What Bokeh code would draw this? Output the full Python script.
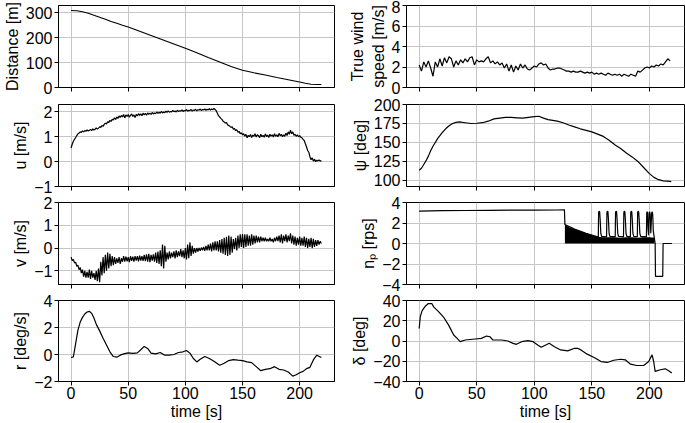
from bokeh.plotting import figure
from bokeh.layouts import gridplot
from bokeh.models import Range1d, FixedTicker, CustomJSTickFormatter
from bokeh.embed import file_html
from bokeh.resources import INLINE

# ---------------- data ----------------
x_ticks = [0, 50, 100, 150, 200]

dist_t = [0, 5, 10, 15, 20, 25, 30, 35, 40, 45, 50, 60, 70, 80, 90, 100, 110, 120, 130, 140,
          150, 160, 170, 180, 190, 200, 205, 210, 215, 219]
dist_v = [308, 307, 303, 297, 289, 281, 273, 264, 257, 249, 242, 225, 208, 191, 174, 157, 139, 120, 102, 84,
          69, 59, 50, 40, 31, 22, 17, 13, 12, 12]

wind_t = list(range(0, 220, 2))
wind_v = [2.2, 1.6, 2.5, 2.0, 2.6, 1.9, 1.1, 2.5, 2.0, 2.8, 2.1, 2.9, 2.4, 3.0, 2.8, 2.0, 2.6, 2.2, 2.7, 2.4,
          2.8, 2.5, 2.9, 3.0, 2.2, 2.7, 2.5, 2.6, 2.5, 2.8, 3.0, 2.4, 2.6, 2.3, 2.5, 2.2, 2.4, 1.9, 2.3, 1.6,
          2.2, 1.5, 2.1, 1.7, 2.3, 1.9, 2.2, 1.8, 1.7, 1.9, 2.1, 2.0, 2.3, 2.4, 2.2, 2.3, 1.9, 1.7, 1.8, 1.8,
          1.9, 1.9, 1.8, 1.7, 1.6, 1.6, 1.5, 1.6, 1.5, 1.5, 1.6, 1.5, 1.4, 1.5, 1.4, 1.5, 1.3, 1.4, 1.3, 1.4,
          1.3, 1.2, 1.4, 1.3, 1.2, 1.3, 1.2, 1.3, 1.1, 1.3, 1.2, 1.1, 1.3, 1.2, 1.1, 1.6, 1.5, 1.7, 1.9, 2.0,
          1.9, 2.1, 2.0, 2.2, 2.1, 2.3, 2.2, 2.5, 2.8, 2.6]

u_t = list(range(0, 220))
u_v = [0.55, 0.7, 0.82, 0.9, 0.97, 1.05, 1.12, 1.15, 1.2, 1.18,
       1.24, 1.2, 1.25, 1.22, 1.28, 1.23, 1.26, 1.3, 1.25, 1.32,
       1.27, 1.3, 1.36, 1.31, 1.35, 1.4, 1.38, 1.45, 1.42, 1.5,
       1.55, 1.52, 1.6, 1.58, 1.66, 1.62, 1.7, 1.68, 1.76, 1.7,
       1.8, 1.74, 1.84, 1.78, 1.86, 1.8, 1.9, 1.76, 1.88, 1.82,
       1.9, 1.79, 1.86, 1.92, 1.82, 1.88, 1.78, 1.9, 1.84, 1.93,
       1.86, 1.92, 1.85, 1.95, 1.88, 1.94, 1.87, 1.96, 1.9, 1.95,
       1.9, 1.98, 1.92, 1.96, 1.93, 2.0, 1.94, 1.99, 1.95, 2.02,
       1.96, 2.0, 1.97, 2.03, 1.98, 2.04, 1.99, 2.02, 2.0, 2.06,
       2.01, 2.04, 2.0, 2.07, 2.02, 2.05, 2.03, 2.08, 2.02, 2.06,
       2.04, 2.1, 2.03, 2.07, 2.05, 2.1, 2.03, 2.08, 2.06, 2.11,
       2.04, 2.09, 2.07, 2.12, 2.05, 2.1, 2.08, 2.12, 2.06, 2.11,
       2.08, 2.13, 2.07, 2.12, 2.09, 2.14, 2.1, 2.05, 1.95, 1.85,
       1.8, 1.74, 1.7, 1.63, 1.6, 1.55, 1.58, 1.48, 1.45, 1.42,
       1.38, 1.4, 1.3, 1.33, 1.25, 1.28, 1.18, 1.22, 1.12, 1.16,
       1.08, 1.12, 1.02, 1.1, 0.96, 1.06, 1.0, 1.09, 0.97, 1.07,
       1.02, 1.12, 0.99, 1.08, 1.04, 0.97, 1.1, 1.0, 1.06, 0.98,
       1.12, 1.01, 1.07, 0.97, 1.1, 1.03, 1.08, 0.99, 1.12, 1.02,
       1.08, 1.0, 1.14, 1.04, 1.1, 1.0, 1.08, 1.02, 1.15, 1.05,
       1.2, 1.1, 1.27, 1.12, 1.2, 1.06, 1.1, 1.02, 1.08, 1.0,
       1.05, 0.98, 0.96, 0.9, 0.85, 0.72, 0.6, 0.45, 0.38, 0.2,
       0.08, 0.15, 0.02, 0.1, 0.0, 0.06, 0.03, 0.07, 0.02, 0.04]

psi_t = [0, 2, 4, 6, 8, 10, 12, 14, 16, 18, 20, 23, 26, 29, 32, 35, 40, 45, 50, 55, 60, 65, 70, 75, 80, 85, 90, 95,
         100, 104, 108, 112, 116, 120, 125, 130, 135, 140, 145, 150, 155, 160, 165, 170, 175, 180, 185, 190, 195,
         200, 204, 208, 212, 216, 219]
psi_v = [113.5, 116, 121, 126, 132, 139, 145, 150, 155, 159, 163, 168, 172, 175, 176.5, 177, 176, 175, 175.3, 176,
         178, 181, 182, 183, 183, 182.5, 182, 183, 184, 184.5, 182, 180, 179, 178, 176, 173, 170.5, 168, 166, 164,
         161, 158, 153, 147, 142, 136, 131, 125, 117, 109, 104, 101, 99.5, 99, 98.5]

v_t = list(range(0, 220))
v_v = [-0.4, -0.55, -0.5, -0.65, -0.62, -0.8, -0.75, -0.95, -0.85, -1.1,
       -0.95, -1.25, -1.0, -1.3, -1.05, -1.3, -0.95, -1.35, -1.0, -1.3,
       -1.1, -1.4, -1.0, -1.45, -0.9, -1.5, -0.6, -1.2, -0.4, -1.1,
       -0.3, -1.0, -0.2, -0.9, -0.25, -0.8, -0.35, -0.75, -0.4, -0.7,
       -0.45, -0.65, -0.4, -0.7, -0.45, -0.6, -0.35, -0.6, -0.38, -0.58,
       -0.4, -0.62, -0.36, -0.56, -0.38, -0.6, -0.35, -0.55, -0.36, -0.58,
       -0.33, -0.55, -0.35, -0.56, -0.3, -0.58, -0.28, -0.6, -0.25, -0.62,
       -0.3, -0.55, -0.28, -0.6, -0.2, -0.65, -0.15, -0.7, -0.1, -0.8,
       0.15, -0.9, 0.1, -0.6, -0.2, -0.5, -0.15, -0.45, -0.2, -0.4,
       -0.15, -0.45, -0.1, -0.4, -0.15, -0.35, -0.05, -0.4, -0.1, -0.45,
       0.0, -0.5, 0.15, -0.45, 0.25, -0.35, 0.1, -0.25, 0.0, -0.2,
       0.0, -0.15, 0.0, -0.12, 0.02, -0.1, 0.05, -0.12, 0.1, -0.1,
       0.15, -0.1, 0.2, -0.15, 0.25, -0.1, 0.3, -0.1, 0.3, -0.15,
       0.35, -0.2, 0.4, -0.25, 0.45, -0.3, 0.5, -0.35, 0.55, -0.3,
       0.5, -0.2, 0.4, -0.05, 0.45, -0.1, 0.55, 0.0, 0.6, 0.05,
       0.62, 0.0, 0.6, 0.05, 0.6, 0.1, 0.55, 0.1, 0.6, 0.15,
       0.55, 0.2, 0.55, 0.25, 0.5, 0.25, 0.5, 0.3, 0.45, 0.3,
       0.45, 0.3, 0.4, 0.3, 0.45, 0.3, 0.4, 0.25, 0.45, 0.3,
       0.5, 0.3, 0.55, 0.25, 0.6, 0.2, 0.55, 0.3, 0.6, 0.25,
       0.55, 0.3, 0.65, 0.2, 0.55, 0.15, 0.5, 0.1, 0.45, 0.15,
       0.5, 0.1, 0.45, 0.1, 0.5, 0.05, 0.45, 0.0, 0.4, 0.05,
       0.45, 0.0, 0.4, 0.05, 0.35, 0.1, 0.35, 0.15, 0.3, 0.2]

np_t = [0, 20, 40, 60, 80, 100, 120, 126.2, 126.6, 135, 145, 155,
        155.6, 155.9, 156.3, 156.8, 157.2, 157.8, 158.5,
        162.8, 163.1, 163.5, 164.0, 164.4, 165.0, 165.7,
        170.3, 170.6, 171.0, 171.5, 171.9, 172.5, 173.2,
        177.5, 177.8, 178.2, 178.7, 179.1, 179.7, 180.4,
        183.5, 183.8, 184.2, 184.7, 185.1, 185.7, 186.4,
        189.5, 189.8, 190.2, 190.7, 191.1, 191.7, 192.4,
        197.4, 197.7, 198.0, 198.4, 198.8, 199.3,
        199.8, 200.3, 200.7, 201.2,
        202.0, 202.5, 202.9, 203.4, 204.2, 205.0, 205.3, 211.6, 211.9, 219.5]
np_v = [3.15, 3.2, 3.22, 3.24, 3.25, 3.26, 3.27, 3.28, 1.85, 1.4, 1.0, 0.65,
        0.6, 3.0, 3.15, 3.1, 2.4, 1.0, 0.7,
        0.65, 3.0, 3.15, 3.1, 2.4, 1.0, 0.7,
        0.65, 3.0, 3.15, 3.1, 2.4, 1.0, 0.7,
        0.65, 3.0, 3.15, 3.1, 2.4, 1.0, 0.7,
        0.65, 3.0, 3.15, 3.1, 2.4, 1.0, 0.7,
        0.65, 3.0, 3.15, 3.1, 2.4, 1.0, 0.7,
        0.65, 3.0, 3.1, 3.0, 1.5, 0.8,
        3.0, 3.1, 2.8, 1.0,
        3.0, 3.1, 2.8, 1.2, 0.6, 0.0, -3.2, -3.2, 0.0, 0.0]
# envelope of the densely oscillating propeller speed (filled to zero)
np_env_t = [126.6, 130, 135, 140, 145, 150, 155, 160, 165, 170, 175, 180, 185, 190, 195, 200, 204.5]
np_env_v = [1.85, 1.6, 1.4, 1.2, 1.0, 0.82, 0.65, 0.6, 0.6, 0.6, 0.55, 0.6, 0.6, 0.55, 0.6, 0.6, 0.55]

r_t = [0, 2, 3, 4, 6, 8, 10, 12, 14, 16, 18, 20, 22, 25, 28, 31, 34, 37, 40, 43, 46, 50, 54, 58, 61, 64, 67,
       70, 74, 78, 82, 86, 90, 94, 98, 101, 104, 107, 110, 113, 117, 121, 125, 130, 134, 138, 142, 146, 150,
       154, 158, 162, 166, 170, 174, 178, 182, 186, 190, 194, 197, 200, 203, 206, 209, 212, 215, 219]
r_v = [-0.22, -0.18, 0.3, 0.8, 1.8, 2.4, 2.75, 3.0, 3.15, 3.2, 3.05, 2.7, 2.25, 1.75, 1.2, 0.7, 0.2, -0.15,
       -0.2, -0.05, 0.05, 0.12, 0.08, 0.12, 0.35, 0.6, 0.45, 0.1, 0.05, 0.15, -0.05, -0.05, 0.0, 0.15, 0.2,
       0.3, 0.1, -0.3, -0.55, -0.35, -0.15, -0.3, -0.5, -0.8, -0.65, -0.45, -0.38, -0.42, -0.45, -0.55, -0.6,
       -0.9, -1.2, -1.1, -1.05, -0.9, -1.1, -1.15, -1.3, -1.6, -1.5, -1.35, -1.25, -1.05, -0.95, -0.4, -0.05,
       -0.22]

delta_t = [0, 1, 2.6, 5.5, 8, 11, 12.6, 17, 21, 25.6, 30, 33, 35.6, 40, 48.6, 54, 58.6, 61.5, 64, 71.6, 77,
           81.6, 84.5, 89, 94.5, 99, 103, 106, 110, 113, 117.5, 123, 129, 135, 137.6, 140.5, 146, 152, 158,
           163.5, 169, 175, 179, 183.6, 189, 195, 199.4, 202.3, 203.7, 205, 209.5, 213.8, 216.7, 219.5]
delta_v = [12.4, 24, 30, 34.6, 37, 37, 33.7, 28.8, 23.9, 15.7, 5.9, 2.6, -0.65, 1, 2, 2.6, 4.9, 4.2, 1, 1, 0,
           -2.3, -3.3, -0.65, 0.3, -0.65, -3.9, -6.2, -3.9, -2.3, -5.6, -8.8, -9.8, -7.2, -7.2, -8.8, -13,
           -16.3, -20.3, -21.2, -19, -18, -18.6, -22.9, -24.2, -24.2, -20.3, -13.7, -20, -30, -28.4, -27.5,
           -29.4, -31.7]

# ---------------- layout ----------------
FONT = "Liberation Sans"
FS = "16px"
COL_LEFT = [54, 57]      # border left of each column
COL_FW = [280, 281]      # frame width of each column
COL_RIGHT = [12, 1]      # border right of each column
ROW_FH = [82, 82, 82, 81]
ROW_TOP = [5, 9, 8, 8]
ROW_BOT = [8, 8, 8, 42]

minus_fmt = "return tick < 0 ? '\\u2212' + Math.abs(tick) : String(tick);"


def make(col, row, yr, yticks, ylabel, ts, vs):
    lb, fw, rb = COL_LEFT[col], COL_FW[col], COL_RIGHT[col]
    tb, fh, bb = ROW_TOP[row], ROW_FH[row], ROW_BOT[row]
    p = figure(width=lb + fw + rb, height=tb + fh + bb,
               x_range=Range1d(-11, 230.5), y_range=Range1d(*yr),
               output_backend="svg", toolbar_location=None,
               min_border_left=lb, min_border_right=rb,
               min_border_top=tb, min_border_bottom=bb)
    p.background_fill_color = "white"
    p.border_fill_color = "white"
    p.outline_line_color = "black"
    p.outline_line_width = 1
    p.xaxis.ticker = FixedTicker(ticks=x_ticks)
    p.yaxis.ticker = FixedTicker(ticks=yticks)
    p.yaxis.formatter = CustomJSTickFormatter(code=minus_fmt)
    for ax in p.axis:
        ax.axis_line_color = "black"
        ax.major_tick_line_color = "black"
        ax.major_tick_out = 4
        ax.major_tick_in = 0
        ax.minor_tick_line_color = None
        ax.major_label_text_font = FONT
        ax.major_label_text_font_size = FS
        ax.major_label_text_color = "black"
        ax.axis_label_text_font = FONT
        ax.axis_label_text_font_size = FS
        ax.axis_label_text_font_style = "normal"
        ax.axis_label_text_color = "black"
        ax.major_label_standoff = 2
        ax.axis_label_standoff = 2
    p.yaxis.axis_label = ylabel
    if row == 3:
        p.xaxis.axis_label = "time [s]"
        p.xaxis.major_label_standoff = 1
        p.xaxis.axis_label_standoff = 1
    else:
        # shared x axis: ticks only, labels not drawn
        p.xaxis.major_label_text_color = None
        p.xaxis.major_label_text_font_size = "1px"
        p.xaxis.major_label_standoff = 0
    p.grid.grid_line_color = "#c6c6c6"
    p.grid.grid_line_width = 1
    p.line(ts, vs, line_color="black", line_width=1.2)
    return p


p_dist = make(0, 0, (0, 328), [0, 100, 200, 300], "Distance [m]", dist_t, dist_v)
p_wind = make(1, 0, (0, 8), [0, 2, 4, 6, 8], "True wind\nspeed [m/s]", wind_t, wind_v)
p_u = make(0, 1, (-1, 2.3), [-1, 0, 1, 2], "u [m/s]", u_t, u_v)
p_psi = make(1, 1, (92, 200), [100, 125, 150, 175, 200], "ψ [deg]", psi_t, psi_v)
p_v = make(0, 2, (-1.6, 2), [-1, 0, 1, 2], "v [m/s]", v_t, v_v)
p_np = make(1, 2, (-4, 4), [-4, -2, 0, 2, 4], "nₚ [rps]", np_t, np_v)
p_np.varea(x=np_env_t, y1=[0] * len(np_env_t), y2=np_env_v, fill_color="black")
p_r = make(0, 3, (-2, 4), [-2, 0, 2, 4], "r [deg/s]", r_t, r_v)
p_delta = make(1, 3, (-40, 40), [-40, -20, 0, 20, 40], "δ [deg]", delta_t, delta_v)

grid = gridplot([[p_dist, p_wind], [p_u, p_psi], [p_v, p_np], [p_r, p_delta]],
                toolbar_location=None)

open("out.html", "w").write(file_html(grid, INLINE))
